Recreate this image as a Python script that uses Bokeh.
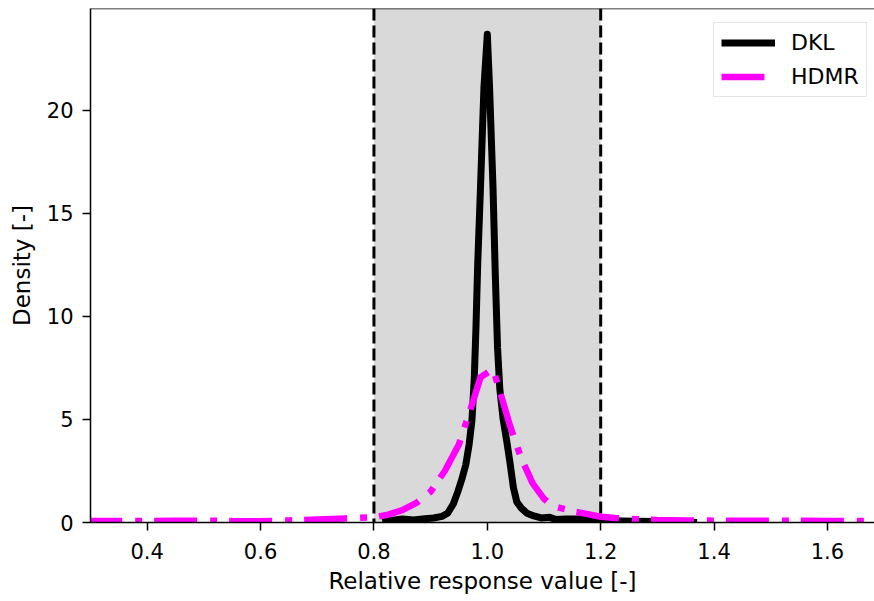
from bokeh.plotting import figure
from bokeh.models import (BoxAnnotation, Span, Legend, LegendItem, FixedTicker,
                          PrintfTickFormatter, Range1d)
from bokeh.embed import file_html
from bokeh.resources import INLINE

# --- data ---
dkl_x = [0.815, 0.83, 0.85, 0.87, 0.89, 0.905, 0.92, 0.93, 0.94, 0.948, 0.955,
         0.962, 0.968, 0.973, 0.977, 0.980, 0.983, 0.988, 0.994, 1.000, 1.004,
         1.010, 1.014, 1.018, 1.022, 1.028, 1.034, 1.040, 1.046, 1.052, 1.06,
         1.07, 1.082, 1.095, 1.11, 1.12, 1.14, 1.165, 1.19, 1.22, 1.26, 1.30,
         1.34, 1.37]
dkl_y = [0.02, 0.10, 0.17, 0.12, 0.18, 0.22, 0.30, 0.45, 0.9, 1.5, 2.1,
         2.8, 3.8, 5.0, 7.0, 9.5, 12.5, 16.3, 21.1, 23.7, 21.1,
         16.3, 12.1, 8.5, 6.5, 5.0, 4.0, 2.9, 1.7, 1.0, 0.7,
         0.45, 0.32, 0.22, 0.25, 0.15, 0.17, 0.17, 0.10, 0.08, 0.06, 0.05,
         0.03, 0.0]

hdmr_x = [0.28, 0.35, 0.40, 0.45, 0.50, 0.55, 0.60, 0.65, 0.70, 0.75, 0.80,
          0.825, 0.85, 0.875, 0.90, 0.925, 0.95, 0.975, 0.988, 1.01, 1.025,
          1.04, 1.06, 1.08, 1.10, 1.115, 1.15, 1.175, 1.20, 1.225, 1.25,
          1.30, 1.35, 1.40, 1.45, 1.50, 1.55, 1.60, 1.65, 1.70]
hdmr_y = [0.08, 0.07, 0.07, 0.08, 0.09, 0.07, 0.06, 0.10, 0.15, 0.20, 0.25,
          0.38, 0.6, 0.95, 1.5, 2.5, 3.8, 5.9, 7.05, 7.45, 6.1,
          4.7, 3.1, 1.9, 1.15, 0.8, 0.55, 0.42, 0.28, 0.22, 0.17,
          0.12, 0.10, 0.09, 0.08, 0.08, 0.08, 0.07, 0.07, 0.07]

x_ticks = [0.4, 0.6, 0.8, 1.0, 1.2, 1.4, 1.6]
y_ticks = [0, 5, 10, 15, 20]
band = (0.8, 1.2)

FONT = "DejaVu Sans"

p = figure(width=874, height=601, output_backend="svg", toolbar_location=None,
           x_range=Range1d(0.3, 1.683), y_range=Range1d(0, 24.95),
           min_border_left=90, min_border_right=0, min_border_top=8,
           min_border_bottom=79)
p.background_fill_color = "white"
p.border_fill_color = "white"
p.outline_line_color = None
p.grid.visible = False

# shaded band and dashed bounds
p.add_layout(BoxAnnotation(left=band[0], right=band[1], fill_color="gray",
                           fill_alpha=0.3, line_color=None, level="underlay"))
for loc in band:
    p.add_layout(Span(location=loc, dimension="height", line_color="black",
                      line_width=3, line_dash="12 5", level="underlay"))

r_dkl = p.line(dkl_x, dkl_y, line_color="black", line_width=7, line_join="round")
r_hdmr = p.line(hdmr_x, hdmr_y, line_color="#ff00ff", line_width=6.5,
                line_dash="43 13 7 12")

# top spine
p.add_layout(Span(location=24.95, dimension="width", line_color="black",
                  line_width=1.5))

for ax in (p.xaxis[0], p.yaxis[0]):
    ax.axis_line_width = 1.5
    ax.axis_line_color = "black"
    ax.major_tick_line_width = 1.5
    ax.major_tick_line_color = "black"
    ax.major_tick_in = 0
    ax.major_tick_out = 8
    ax.minor_tick_line_color = None
    ax.major_label_text_font = FONT
    ax.major_label_text_font_size = "21px"
    ax.major_label_text_color = "black"
    ax.axis_label_text_font = FONT
    ax.axis_label_text_font_size = "23px"
    ax.axis_label_text_font_style = "normal"
    ax.axis_label_text_color = "black"

p.xaxis.ticker = FixedTicker(ticks=x_ticks)
p.xaxis.formatter = PrintfTickFormatter(format="%.1f")
p.xaxis.axis_label = "Relative response value [-]"
p.xaxis.major_label_standoff = 12
p.xaxis.axis_label_standoff = 6

p.yaxis.ticker = FixedTicker(ticks=y_ticks)
p.yaxis.axis_label = "Density [-]"
p.yaxis.major_label_standoff = 9
p.yaxis.axis_label_standoff = 9

legend = Legend(items=[LegendItem(label="DKL", renderers=[r_dkl]),
                       LegendItem(label="HDMR", renderers=[r_hdmr])],
                location=(623, 425), margin=0, padding=7, spacing=9,
                glyph_width=54, glyph_height=25, label_height=25,
                label_standoff=16, label_text_font=FONT,
                label_text_color="black",
                label_text_font_size="22px", border_line_color="#cccccc",
                border_line_width=1, background_fill_alpha=0.8)
p.add_layout(legend)

open("out.html", "w").write(file_html(p, INLINE))
